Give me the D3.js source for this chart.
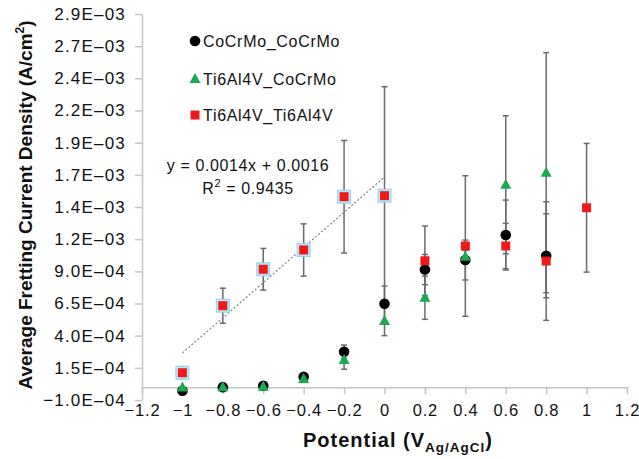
<!DOCTYPE html>
<html>
<head>
<meta charset="utf-8">
<script src="https://cdn.jsdelivr.net/npm/d3@7"></script>
<style>
  body { margin: 0; background: #fff; }
  text { font-family: "Liberation Sans", Arial, Helvetica, sans-serif; fill: #111; }
</style>
</head>
<body>
<div id="chart"></div>
<script>
// Fretting current density vs potential, three material couples
const potentials = [-1, -0.8, -0.6, -0.4, -0.2, 0, 0.2, 0.4, 0.6, 0.8, 1];

const cocrmoMean = [-2.8e-5, 0, 1.1e-5, 8.1e-5, 2.75e-4, 6.48e-4, 9.14e-4, 9.88e-4, 1.182e-3, 1.021e-3, null];
const cocrmoErr  = [0, 0, 0, 0, 5.2e-5, 1.38e-4, 1.17e-4, 1.55e-4, 2.72e-4, 3.26e-4, null];

const tiCoMean = [-2e-6, 0, 3e-6, 6.3e-5, 2.11e-4, 5.14e-4, 6.95e-4, 1.013e-3, 1.573e-3, 1.667e-3, null];
const tiCoErr  = [0, 0, 0, 0, 7.2e-5, 1.14e-4, 1.68e-4, 5e-5, 5.36e-4, 9.33e-4, null];

const tiTiMean = [1.12e-4, 6.33e-4, 9.16e-4, 1.066e-3, 1.48e-3, 1.488e-3, 9.82e-4, 1.097e-3, 1.097e-3, 9.8e-4, 1.394e-3];
const tiTiErr  = [4.7e-5, 1.36e-4, 1.62e-4, 2.03e-4, 4.37e-4, 8.47e-4, 2.7e-4, 5.46e-4, 1.76e-4, 4.61e-4, 5e-4];

const seriesNames = ["CoCrMo_CoCrMo", "Ti6Al4V_CoCrMo", "Ti6Al4V_Ti6Al4V"];

const xTicks = [-1.2, -1, -0.8, -0.6, -0.4, -0.2, 0, 0.2, 0.4, 0.6, 0.8, 1, 1.2];
const yTicks = [-1e-4, 1.5e-4, 4e-4, 6.5e-4, 9e-4, 1.15e-3, 1.4e-3, 1.65e-3, 1.9e-3, 2.15e-3, 2.4e-3, 2.65e-3, 2.9e-3];
const yTickLabels = ["\u22121.0E\u201304", "1.5E\u201304", "4.0E\u201304", "6.5E\u201304", "9.0E\u201304", "1.2E\u201303",
                     "1.4E\u201303", "1.7E\u201303", "1.9E\u201303", "2.2E\u201303", "2.4E\u201303", "2.7E\u201303", "2.9E\u201303"];

const fitMaxPotential = 0; // linear fit uses Ti6Al4V_Ti6Al4V points up to 0 V

const width = 639, height = 459;
const svg = d3.select("#chart").append("svg")
  .attr("width", width)
  .attr("height", height);

const x = d3.scaleLinear().domain([-1.2, 1.2]).range([142, 627]);
const y = d3.scaleLinear().domain([-1e-4, 2.9e-3]).range([400, 14]);

const axisColor = "#c4c4c4";

// Y axis
const yAxis = svg.append("g")
  .attr("transform", `translate(${x(-1.2)},0)`)
  .call(d3.axisLeft(y).tickValues(yTicks).tickSize(7).tickSizeOuter(0).tickPadding(9)
    .tickFormat((d, i) => yTickLabels[i]));
yAxis.select(".domain").attr("stroke", axisColor).attr("stroke-width", 1.5);
yAxis.selectAll(".tick line").attr("stroke", axisColor).attr("stroke-width", 1.5);
yAxis.selectAll(".tick text")
  .style("font-size", "17px")
  .style("letter-spacing", "1.2px")
  .attr("fill", "#111");

// X axis sits on y = 0
const xAxis = svg.append("g")
  .attr("transform", `translate(0,${y(0)})`)
  .call(d3.axisBottom(x).tickValues(xTicks).tickSize(7).tickSizeOuter(0).tickPadding(10)
    .tickFormat(d => String(d).replace("-", "\u2212")));
xAxis.select(".domain").attr("stroke", axisColor).attr("stroke-width", 1.5);
xAxis.selectAll(".tick line").attr("stroke", axisColor).attr("stroke-width", 1.5);
xAxis.selectAll(".tick text")
  .style("font-size", "16.5px")
  .style("letter-spacing", "0.8px")
  .attr("fill", "#111");

// Axis titles
const yTitle = svg.append("text")
  .attr("transform", `translate(32,205) rotate(-90)`)
  .attr("text-anchor", "middle")
  .style("font-size", "19px")
  .style("font-weight", "bold")
  .text("Average Fretting Current Density (A/cm");
yTitle.append("tspan").attr("dy", -8).style("font-size", "12px").text("2");
yTitle.append("tspan").attr("dy", 8).text(")");

const xTitle = svg.append("text")
  .attr("x", 398)
  .attr("y", 447)
  .attr("text-anchor", "middle")
  .style("font-size", "20px")
  .style("font-weight", "bold")
  .style("letter-spacing", "1px")
  .text("Potential (V");
xTitle.append("tspan").attr("dy", 5).style("font-size", "13.5px").text("Ag/AgCl");
xTitle.append("tspan").attr("dy", -5).text(")");

// Build rows for each series
function rows(means, errs) {
  return potentials.map((p, i) => ({x: p, v: means[i], e: errs[i]})).filter(d => d.v !== null);
}
const series = [
  {name: seriesNames[0], data: rows(cocrmoMean, cocrmoErr), shape: "circle", color: "#000"},
  {name: seriesNames[1], data: rows(tiCoMean, tiCoErr), shape: "triangle", color: "#1aaa52"},
  {name: seriesNames[2], data: rows(tiTiMean, tiTiErr), shape: "square", color: "#ee1a1a"}
];

// Error bars (under markers)
const errG = svg.append("g");
series.forEach(s => {
  s.data.filter(d => d.e > 0).forEach(d => {
    const cx = x(d.x), y1 = y(d.v + d.e), y2 = y(d.v - d.e);
    errG.append("line").attr("x1", cx).attr("x2", cx).attr("y1", y1).attr("y2", y2)
      .attr("stroke", "#6a6a6a").attr("stroke-width", 1.5);
    [y1, y2].forEach(yy => {
      errG.append("line").attr("x1", cx - 3).attr("x2", cx + 3).attr("y1", yy).attr("y2", yy)
        .attr("stroke", "#6a6a6a").attr("stroke-width", 1.5);
    });
  });
});

// Linear trendline on Ti6Al4V_Ti6Al4V up to 0 V
const fitData = series[2].data.filter(d => d.x <= fitMaxPotential);
const mx = d3.mean(fitData, d => d.x), my = d3.mean(fitData, d => d.v);
const slope = d3.sum(fitData, d => (d.x - mx) * (d.v - my)) / d3.sum(fitData, d => (d.x - mx) ** 2);
const intercept = my - slope * mx;
const xFit = d3.extent(fitData, d => d.x);
svg.append("line")
  .attr("x1", x(xFit[0])).attr("y1", y(intercept + slope * xFit[0]))
  .attr("x2", x(xFit[1])).attr("y2", y(intercept + slope * xFit[1]))
  .attr("stroke", "#808080")
  .attr("stroke-width", 1.2)
  .attr("stroke-dasharray", "2,2");

// Marker drawing
function drawMarker(g, shape, color, cx, cy) {
  if (shape === "circle") {
    g.append("circle").attr("cx", cx).attr("cy", cy).attr("r", 5.3).attr("fill", color);
  } else if (shape === "triangle") {
    g.append("path")
      .attr("d", `M${cx},${cy - 6}L${cx + 5.5},${cy + 4}L${cx - 5.5},${cy + 4}Z`)
      .attr("fill", color);
  } else {
    g.append("rect").attr("x", cx - 4.5).attr("y", cy - 4.5).attr("width", 9).attr("height", 9)
      .attr("fill", color);
  }
}

const markG = svg.append("g");
series.forEach(s => {
  s.data.forEach(d => {
    if (s.shape === "square" && d.x <= fitMaxPotential) {
      // highlighted fit points
      markG.append("rect")
        .attr("x", x(d.x) - 6.5).attr("y", y(d.v) - 6.5)
        .attr("width", 13).attr("height", 13)
        .attr("fill", "#bfe6f6").attr("stroke", "#8fd3ef").attr("stroke-width", 1);
    }
    drawMarker(markG, s.shape, s.color, x(d.x), y(d.v));
  });
});

// Equation
svg.append("text")
  .attr("x", 248).attr("y", 171)
  .attr("text-anchor", "middle")
  .style("font-size", "16px")
  .style("letter-spacing", "0.6px")
  .text(`y = ${d3.format(".4f")(slope)}x + ${d3.format(".4f")(intercept)}`);
const r2Text = svg.append("text")
  .attr("x", 248).attr("y", 194)
  .attr("text-anchor", "middle")
  .style("font-size", "16px")
  .style("letter-spacing", "0.6px")
  .text("R");
r2Text.append("tspan").attr("dy", -7).style("font-size", "11px").text("2");
r2Text.append("tspan").attr("dy", 7).text(" = 0.9435");

// Legend
const legend = svg.append("g");
series.forEach((s, i) => {
  const ly = [41, 79, 115][i];
  drawMarker(legend, s.shape, s.color, 195, ly);
  legend.append("text")
    .attr("x", 203).attr("y", ly + 6)
    .style("font-size", "16px")
    .style("letter-spacing", "0.7px")
    .text(s.name);
});
</script>
</body>
</html>
